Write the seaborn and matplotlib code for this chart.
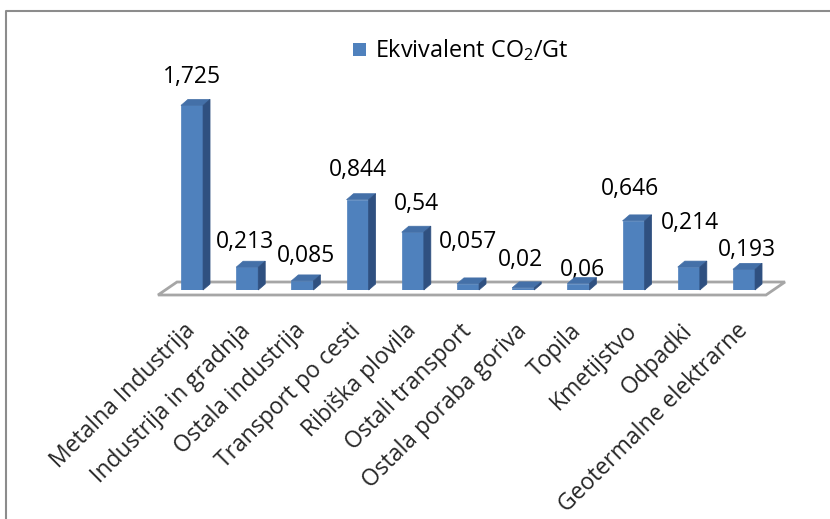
import matplotlib
matplotlib.use("Agg")
import matplotlib.pyplot as plt
from matplotlib.patches import Polygon
from matplotlib.lines import Line2D
import seaborn as sns

categories = ["Metalna Industrija", "Industrija in gradnja", "Ostala industrija",
              "Transport po cesti", "Ribiška plovila", "Ostali transport",
              "Ostala poraba goriva", "Topila", "Kmetijstvo", "Odpadki",
              "Geotermalne elektrarne"]
values = [1.725, 0.213, 0.085, 0.844, 0.54, 0.057, 0.02, 0.06, 0.646, 0.214, 0.193]
value_labels = ["1,725", "0,213", "0,085", "0,844", "0,54", "0,057", "0,02",
                "0,06", "0,646", "0,214", "0,193"]
series_name = r"Ekvivalent CO$_\mathrm{2}$/Gt"

# hand-placed data label offsets (pixels): lift above the bar top, sideways shift
label_lift = [28, 25, 25, 30, 28, 42, 28, 14, 32, 44, 19]
label_shift = [0, -2, 4, 0, 4, 0, -3, 4, -4, 1, 3]

FRONT = "#4F81BD"
TOP = "#4470A8"
SIDE = "#2F5080"
FONT = "Open Sans"

sns.set_theme(style="white")
plt.rcParams["font.family"] = [FONT, "DejaVu Sans"]
plt.rcParams["mathtext.fontset"] = "custom"
plt.rcParams["mathtext.rm"] = FONT
plt.rcParams["mathtext.it"] = FONT + ":italic"

W, H, DPI = 830, 519, 100
PT = 72 / DPI  # points per pixel
fig = plt.figure(figsize=(W / DPI, H / DPI), dpi=DPI)

# plot area in pixels
px_left, px_right, px_base, px_top = 164.4, 771.6, 290, 76
ax = fig.add_axes([px_left / W, (H - px_base) / H,
                   (px_right - px_left) / W, (px_base - px_top) / H])

sns.barplot(x=categories, y=values, color=FRONT, saturation=1, width=0.4,
            ax=ax, zorder=3, edgecolor=FRONT, linewidth=0.5)
ax.set_xlim(-0.5, len(categories) - 0.5)
ax.set_ylim(0, 2.0)

# pixel -> data conversion factors for the 3D depth effect
sx = (px_right - px_left) / len(categories)   # px per x unit
sy = (px_base - px_top) / 2.0                 # px per y unit
bdx, bdy = 7 / sx, 6 / sy                     # bar depth
fdx, fdy = 19 / sx, 13 / sy                   # floor depth
f_front = -5 / sy
f_left = -0.5 - 6.4 / sx
f_right = len(categories) - 0.5 - 5.6 / sx

# floor
floor = Polygon([(f_left, f_front), (f_right, f_front),
                 (f_right + fdx, f_front + fdy), (f_left + fdx, f_front + fdy)],
                closed=True, facecolor="white", edgecolor="#A6A6A6",
                linewidth=2.0, zorder=1, clip_on=False)
ax.add_patch(floor)

# top and side faces for each bar, plus value labels
for bar, lab, lift, shift in zip(list(ax.patches)[:len(values)], value_labels,
                                 label_lift, label_shift):
    x0 = bar.get_x()
    w = bar.get_width()
    h = bar.get_height()
    x1 = x0 + w
    top = Polygon([(x0, h), (x1, h), (x1 + bdx, h + bdy), (x0 + bdx, h + bdy)],
                  closed=True, facecolor=TOP, edgecolor=TOP, linewidth=0.5,
                  zorder=4, clip_on=False)
    side = Polygon([(x1, 0), (x1 + bdx, bdy), (x1 + bdx, h + bdy), (x1, h)],
                   closed=True, facecolor=SIDE, edgecolor=SIDE, linewidth=0.5,
                   zorder=4, clip_on=False)
    ax.add_patch(top)
    ax.add_patch(side)
    ax.annotate(lab, (x0 + w / 2, h), xytext=(shift * PT, lift * PT),
                textcoords="offset points", ha="center", va="center",
                fontsize=16.5, color="black")

for s in ax.spines.values():
    s.set_visible(False)
ax.set_yticks([])
ax.set_ylabel("")
ax.set_xlabel("")
ax.tick_params(axis="x", length=0, pad=27)
ax.set_xticks(range(len(categories)))
ax.set_xticklabels(categories, rotation=45, ha="right", va="center",
                   rotation_mode="anchor", fontsize=16.5)
ax.set_facecolor("none")

# legend
fig.patches.append(Polygon([(353 / W, (H - 43) / H), (366 / W, (H - 43) / H),
                            (366 / W, (H - 56) / H), (353 / W, (H - 56) / H)],
                           closed=True, transform=fig.transFigure,
                           facecolor=FRONT, edgecolor="none"))
fig.text(375 / W, (H - 50) / H, series_name, ha="left", va="center",
         fontsize=16.8, color="black")

# chart border (top and left edges visible)
fig.add_artist(Line2D([6 / W, 6 / W, 1.0], [0.0, (H - 10.5) / H, (H - 10.5) / H],
                      transform=fig.transFigure, color="#8C8C8C", linewidth=1.5))

fig.savefig("out.png", dpi=DPI)
